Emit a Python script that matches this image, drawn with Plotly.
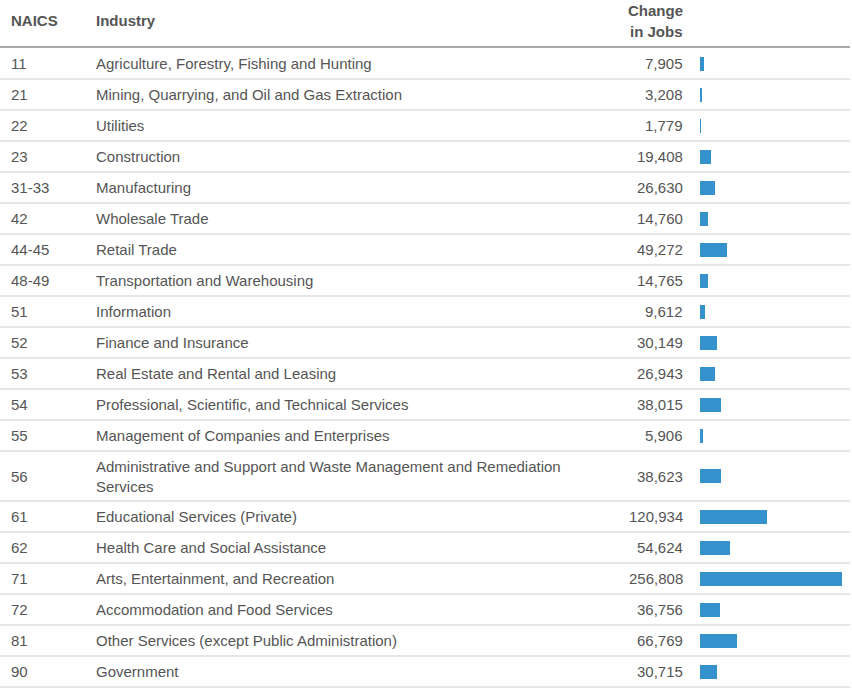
import plotly.graph_objects as go

naics = ["11", "21", "22", "23", "31-33", "42", "44-45", "48-49", "51", "52",
         "53", "54", "55", "56", "61", "62", "71", "72", "81", "90"]
industries = [
    "Agriculture, Forestry, Fishing and Hunting",
    "Mining, Quarrying, and Oil and Gas Extraction",
    "Utilities",
    "Construction",
    "Manufacturing",
    "Wholesale Trade",
    "Retail Trade",
    "Transportation and Warehousing",
    "Information",
    "Finance and Insurance",
    "Real Estate and Rental and Leasing",
    "Professional, Scientific, and Technical Services",
    "Management of Companies and Enterprises",
    "Administrative and Support and Waste Management and Remediation<br>Services",
    "Educational Services (Private)",
    "Health Care and Social Assistance",
    "Arts, Entertainment, and Recreation",
    "Accommodation and Food Services",
    "Other Services (except Public Administration)",
    "Government",
]
change_in_jobs = [7905, 3208, 1779, 19408, 26630, 14760, 49272, 14765, 9612, 30149,
                  26943, 38015, 5906, 38623, 120934, 54624, 256808, 36756, 66769, 30715]

W, H = 852, 689
HEADER_LINE = 47
ROWS_START = 48
FONT = "Liberation Sans, Arial, Helvetica, sans-serif"
TEXT = "#555555"
BAR = "#3592cc"
FS = 15

# row layout (pixel units on a reversed y axis)
row_h = [50 if "<br>" in ind else 31 for ind in industries]
tops, centers = [], []
y = ROWS_START
for h in row_h:
    tops.append(y)
    centers.append(y + h / 2)
    y += h
bottoms = [t + h for t, h in zip(tops, row_h)]

fig = go.Figure()
fig.add_trace(go.Bar(
    x=change_in_jobs, y=centers, orientation="h", width=14,
    marker=dict(color=BAR, line=dict(width=0)), hoverinfo="skip",
))

ann = []
def px(x):
    return x / W

# headers
ann.append(dict(text="<b>NAICS</b>", x=px(9), y=20, xanchor="left"))
ann.append(dict(text="<b>Industry</b>", x=px(94), y=20, xanchor="left"))
ann.append(dict(text="<b>Change</b>", x=px(685), y=10, xanchor="right"))
ann.append(dict(text="<b>in Jobs</b>", x=px(685), y=31, xanchor="right"))

for n, ind, v, c in zip(naics, industries, change_in_jobs, centers):
    ann.append(dict(text=n, x=px(9), y=c, xanchor="left"))
    ann.append(dict(text=ind, x=px(94), y=c, xanchor="left", align="left"))
    ann.append(dict(text=f"{v:,}", x=px(685), y=c, xanchor="right"))

for a in ann:
    a.update(xref="paper", yref="y", yanchor="middle", showarrow=False,
             font=dict(family=FONT, size=FS, color=TEXT))

shapes = [dict(type="line", xref="paper", yref="y", x0=0, x1=px(850),
               y0=HEADER_LINE, y1=HEADER_LINE, line=dict(color="#aaaaaa", width=2))]
for b in bottoms:
    shapes.append(dict(type="line", xref="paper", yref="y", x0=0, x1=px(850),
                       y0=b, y1=b, line=dict(color="#e6e6e6", width=2), layer="below"))

fig.update_layout(
    width=W, height=H, autosize=False,
    margin=dict(l=0, r=0, t=0, b=0),
    paper_bgcolor="white", plot_bgcolor="white",
    showlegend=False,
    xaxis=dict(domain=[700 / W, 842 / W], range=[0, max(change_in_jobs)],
               visible=False, fixedrange=True),
    yaxis=dict(domain=[0, 1], range=[H, 0], visible=False, fixedrange=True),
    annotations=ann, shapes=shapes, bargap=0,
)

fig.write_html("out.html", config={"displayModeBar": False},
               post_script="document.body.style.margin='0';document.body.style.overflow='hidden';")
